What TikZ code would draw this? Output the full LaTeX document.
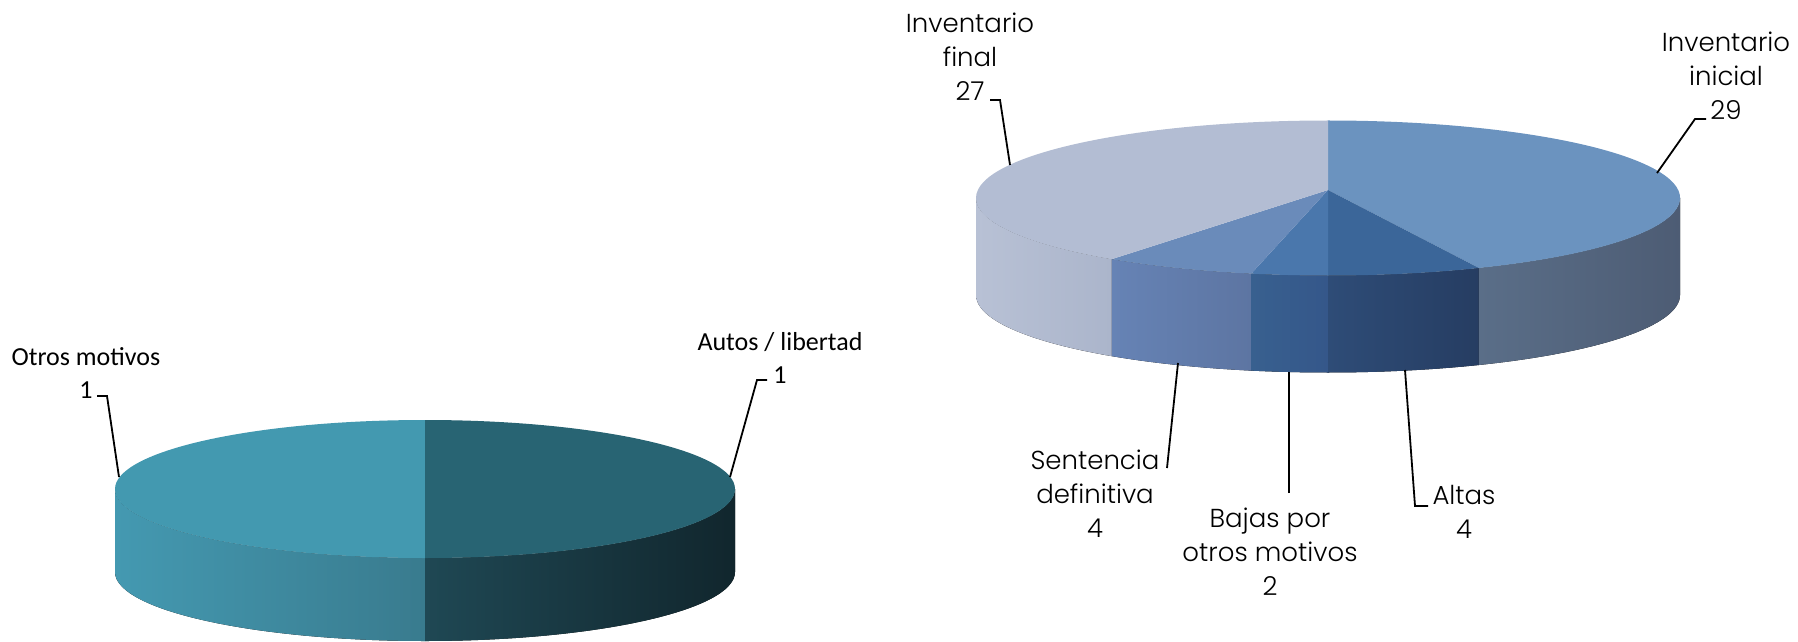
\documentclass[tikz,border=0pt]{standalone}
\usepackage{fontspec}
\setmainfont{Carlito}
\newfontfamily\gothic{Poppins Light}

\definecolor{otrosTop}{HTML}{4399B0}
\definecolor{otrosSideL}{HTML}{4499B1}
\definecolor{otrosSideR}{HTML}{397B8E}
\definecolor{autosTop}{HTML}{286473}
\definecolor{autosSideL}{HTML}{1F4854}
\definecolor{autosSideR}{HTML}{11262D}
\definecolor{inicialTop}{HTML}{6B93BF}
\definecolor{inicialSideL}{HTML}{5A6E88}
\definecolor{inicialSideR}{HTML}{4D5C74}
\definecolor{altasTop}{HTML}{3B6699}
\definecolor{altasSideL}{HTML}{2E4C77}
\definecolor{altasSideR}{HTML}{263D62}
\definecolor{bajasTop}{HTML}{4A77AC}
\definecolor{bajasSideL}{HTML}{38608F}
\definecolor{bajasSideR}{HTML}{35578A}
\definecolor{sentTop}{HTML}{6A8BBA}
\definecolor{sentSideL}{HTML}{6683B5}
\definecolor{sentSideR}{HTML}{5D75A2}
\definecolor{finalTop}{HTML}{B3BDD3}
\definecolor{finalSideL}{HTML}{B8C1D5}
\definecolor{finalSideR}{HTML}{ABB5CB}

\begin{document}
\begin{tikzpicture}[x=1pt,y=1pt,
    smalllbl/.style={align=center,inner sep=0pt,anchor=north,font=\fontsize{26}{33}\selectfont},
    biglbl/.style={align=center,inner sep=0pt,anchor=north,font=\gothic\fontsize{26}{34}\selectfont},
    lead/.style={draw=black,line width=1.8pt}]

  \useasboundingbox (0,0) rectangle (1798,641);

  % left pie
  \begin{scope}[shift={(425,152)}]
    \fill[left color=otrosSideL,right color=otrosSideR] (180:310 and 69) arc[start angle=180,end angle=270,x radius=310,y radius=69] -- ++(0,-83) arc[start angle=270,end angle=180,x radius=310,y radius=69] -- cycle;
    \fill[left color=autosSideL,right color=autosSideR] (270:310 and 69) arc[start angle=270,end angle=360,x radius=310,y radius=69] -- ++(0,-83) arc[start angle=360,end angle=270,x radius=310,y radius=69] -- cycle;
    \fill[otrosTop] (0,0) -- (90:310 and 69) arc[start angle=90,end angle=270,x radius=310,y radius=69] -- cycle;
    \fill[autosTop] (0,0) -- (-90:310 and 69) arc[start angle=-90,end angle=90,x radius=310,y radius=69] -- cycle;
  \end{scope}

  % right pie
  \begin{scope}[shift={(1328,443)}]
    \fill[left color=finalSideL,right color=finalSideR] (180:352 and 77.5) arc[start angle=180,end angle=232.1,x radius=352,y radius=77.5] -- ++(0,-97) arc[start angle=232.1,end angle=180,x radius=352,y radius=77.5] -- cycle;
    \fill[left color=sentSideL,right color=sentSideR] (232.1:352 and 77.5) arc[start angle=232.1,end angle=257.4,x radius=352,y radius=77.5] -- ++(0,-97) arc[start angle=257.4,end angle=232.1,x radius=352,y radius=77.5] -- cycle;
    \fill[left color=bajasSideL,right color=bajasSideR] (257.4:352 and 77.5) arc[start angle=257.4,end angle=270,x radius=352,y radius=77.5] -- ++(0,-97) arc[start angle=270,end angle=257.4,x radius=352,y radius=77.5] -- cycle;
    \fill[left color=altasSideL,right color=altasSideR] (270:352 and 77.5) arc[start angle=270,end angle=295.4,x radius=352,y radius=77.5] -- ++(0,-97) arc[start angle=295.4,end angle=270,x radius=352,y radius=77.5] -- cycle;
    \fill[left color=inicialSideL,right color=inicialSideR] (295.4:352 and 77.5) arc[start angle=295.4,end angle=360,x radius=352,y radius=77.5] -- ++(0,-97) arc[start angle=360,end angle=295.4,x radius=352,y radius=77.5] -- cycle;

    \fill[inicialTop] (0,8) -- (295.4:352 and 77.5) arc[start angle=295.4,end angle=450,x radius=352,y radius=77.5] -- cycle;
    \fill[altasTop] (0,8) -- (270:352 and 77.5) arc[start angle=270,end angle=295.4,x radius=352,y radius=77.5] -- cycle;
    \fill[bajasTop] (0,8) -- (257.4:352 and 77.5) arc[start angle=257.4,end angle=270,x radius=352,y radius=77.5] -- cycle;
    \fill[sentTop] (0,8) -- (232.1:352 and 77.5) arc[start angle=232.1,end angle=257.4,x radius=352,y radius=77.5] -- cycle;
    \fill[finalTop] (0,8) -- (90:352 and 77.5) arc[start angle=90,end angle=232.1,x radius=352,y radius=77.5] -- cycle;
  \end{scope}

  % labels
  \node[smalllbl] (otros) at (86,294) {Otros motivos\\1};
  \node[smalllbl] (autos) at (780,309) {Autos / libertad\\1};
  \node[biglbl] (final) at (970,628) {Inventario\\final\\27};
  \node[biglbl] (inicial) at (1726,609) {Inventario\\inicial\\29};
  \node[biglbl] (sentencia) at (1095,191) {Sentencia\\definitiva\\4};
  \node[biglbl] (bajas) at (1270,133) {Bajas por\\otros motivos\\2};
  \node[biglbl] (altas) at (1464,156) {Altas\\4};

  % leader lines
  \coordinate (otrosA) at (97,245);
  \coordinate (otrosB) at (107,245);
  \coordinate (otrosC) at (119,164);
  \coordinate (autosA) at (767,261);
  \coordinate (autosB) at (757,261);
  \coordinate (autosC) at (730,164);
  \coordinate (finalA) at (990,541);
  \coordinate (finalB) at (1000,541);
  \coordinate (finalC) at (1010,476);
  \coordinate (inicialA) at (1706,522);
  \coordinate (inicialB) at (1695,522);
  \coordinate (inicialC) at (1657,468);
  \coordinate (sentA) at (1167,173);
  \coordinate (sentC) at (1178,278);
  \coordinate (bajasA) at (1289,148);
  \coordinate (bajasC) at (1289,269);
  \coordinate (altasA) at (1428,135);
  \coordinate (altasB) at (1415,135);
  \coordinate (altasC) at (1405,271);

  \draw[lead] (otrosA) -- (otrosB) -- (otrosC);
  \draw[lead] (autosA) -- (autosB) -- (autosC);
  \draw[lead] (finalA) -- (finalB) -- (finalC);
  \draw[lead] (inicialA) -- (inicialB) -- (inicialC);
  \draw[lead] (sentA) -- (sentC);
  \draw[lead] (bajasA) -- (bajasC);
  \draw[lead] (altasA) -- (altasB) -- (altasC);
\end{tikzpicture}
\end{document}
